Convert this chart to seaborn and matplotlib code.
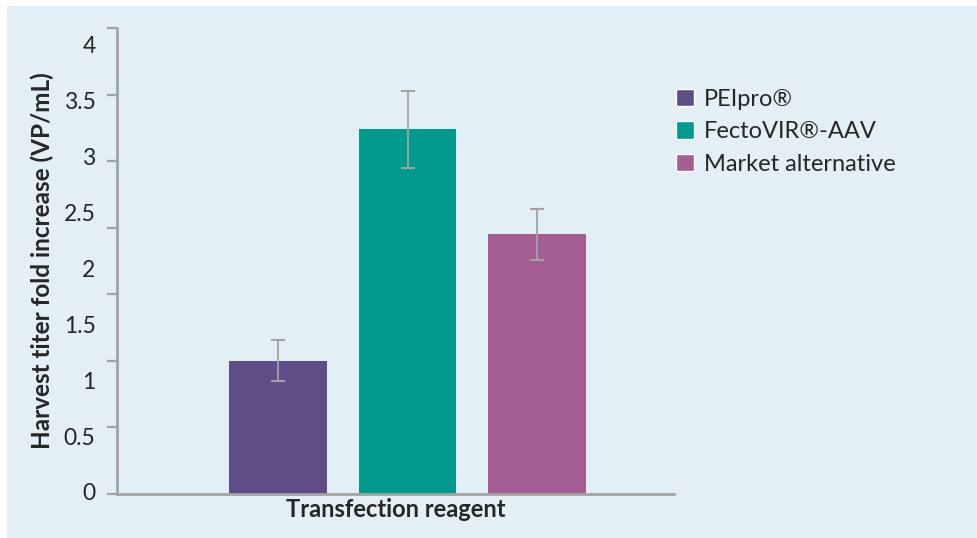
import pandas as pd
import matplotlib.pyplot as plt
import seaborn as sns
from matplotlib.patches import Rectangle

# Data (fold increase relative to PEIpro)
reagents = ['PEIpro®', 'FectoVIR®-AAV', 'Market alternative']
fold_increase = [1.0, 2.74, 1.95]
fold_error = [0.155, 0.29, 0.19]
colors = ['#5e4d87', '#009b8e', '#a45e94']

# tick labels as printed on the original axis
ylabels = ['0', '0.5', '1', '1.5', '2', '2.5', '3', '3.5', '4']

df = pd.DataFrame({'reagent': reagents, 'fold': fold_increase, 'err': fold_error})

sns.set_style('white')
plt.rcParams['font.family'] = ['Lato', 'DejaVu Sans']

grey = '#a3a3a3'
fig = plt.figure(figsize=(9.77, 5.38), dpi=100)
fig.patch.set_facecolor('white')
fig.add_artist(Rectangle((7 / 977, 0), 1, 1 - 6 / 538, transform=fig.transFigure,
                         facecolor='#e2eff5', edgecolor='none', zorder=-5))

ax = fig.add_axes([0.1198, 0.0818, 0.5701, 0.8662])
ax.set_facecolor('none')

sns.barplot(data=df, x='reagent', y='fold', hue='reagent', palette=colors,
            saturation=1, width=0.75, errorbar=None, legend=False, ax=ax,
            edgecolor='none', zorder=2)
ax.errorbar(range(len(reagents)), df['fold'], yerr=df['err'], fmt='none',
            ecolor=grey, elinewidth=1.3, capsize=5, capthick=1.5, zorder=3)

ax.set_xlim(-1.243, 3.058)
ax.set_ylim(0, 3.5)
ax.set_xticks([])
ax.set_yticks([i * 0.5 for i in range(8)])
ax.set_yticklabels([])
ax.tick_params(axis='y', length=7, width=1.6, color=grey, left=True)
for side in ['top', 'right']:
    ax.spines[side].set_visible(False)
for side in ['left', 'bottom']:
    ax.spines[side].set_color(grey)
    ax.spines[side].set_linewidth(2)

ax.set_xlabel('Transfection reagent', fontsize=17, fontweight='bold', labelpad=3)
ax.set_ylabel('Harvest titer fold increase (VP/mL)', fontsize=17.5,
              fontweight='bold', labelpad=35)

# printed labels sit on their own scale, offset from the tick marks
ax2 = ax.twinx()
ax2.yaxis.tick_left()
ax2.set_ylim(-0.018, 4.149)
ax2.set_yticks([i * 0.5 for i in range(9)])
ax2.set_yticklabels(ylabels, fontsize=16.5)
ax2.tick_params(axis='y', length=0, pad=15.5, left=True, right=False)
for s in ax2.spines.values():
    s.set_visible(False)

handles = [Rectangle((0, 0), 1, 1, facecolor=c) for c in colors]
fig.legend(handles, reagents, loc='upper left', bbox_to_anchor=(0.67, 0.874),
           frameon=False, fontsize=17, handlelength=0.75, handleheight=0.75,
           handletextpad=0.45, labelspacing=0.48)

fig.savefig('out.png', dpi=100)
